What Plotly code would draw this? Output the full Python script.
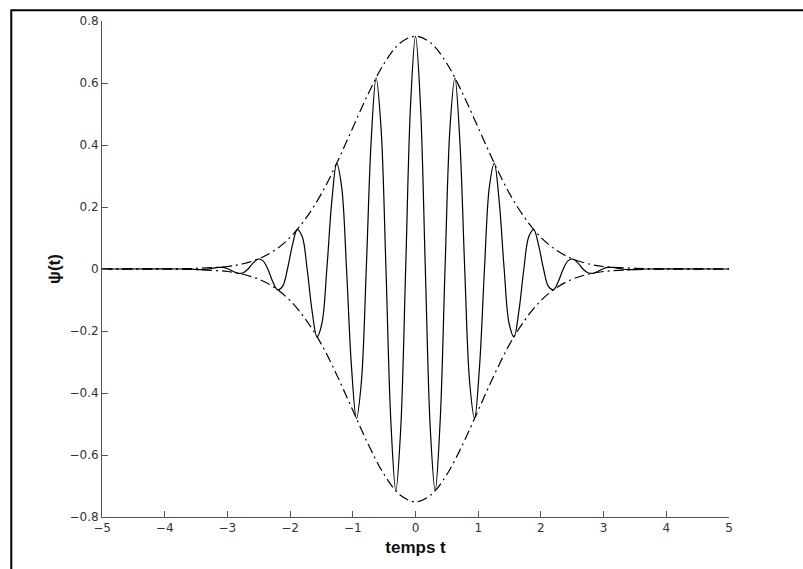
import plotly.graph_objects as go

# Values (t >= 0 half; the curve is symmetric about t = 0)
t_half = [0, 0.079, 0.157, 0.236, 0.314, 0.393, 0.471, 0.550, 0.628, 0.707, 0.785,
          0.864, 0.942, 1.021, 1.100, 1.178, 1.257, 1.335, 1.414, 1.492, 1.571,
          1.649, 1.728, 1.806, 1.885, 1.963, 2.042, 2.120, 2.199, 2.278, 2.356,
          2.435, 2.513, 2.592, 2.670, 2.749, 2.827, 2.906, 2.985, 3.063, 3.142,
          3.220, 3.299, 3.377, 3.456, 3.534, 3.613, 5.0]
psi_half = [0.751, 0.529, 0, -0.516, -0.715, -0.492, 0, 0.456, 0.617, 0.414, 0,
            -0.366, -0.482, -0.315, 0, 0.265, 0.341, 0.218, 0, -0.175, -0.219,
            -0.136, 0, 0.104, 0.127, 0.077, 0, -0.056, -0.067, -0.040, 0,
            0.027, 0.032, 0.019, 0, -0.012, -0.014, -0.008, 0, 0.005, 0.005,
            0.003, 0, -0.002, -0.002, -0.001, 0, 0]

env_t_half = [0, 0.25, 0.5, 0.75, 1.0, 1.25, 1.5, 1.75, 2.0, 2.25, 2.5, 2.75,
              3.0, 3.5, 4.0, 5.0]
env_half = [0.751, 0.728, 0.663, 0.567, 0.456, 0.344, 0.243, 0.163, 0.102,
            0.060, 0.033, 0.017, 0.008, 0.002, 0.0, 0.0]

x_ticks = [-5, -4, -3, -2, -1, 0, 1, 2, 3, 4, 5]
y_ticks = [-0.8, -0.6, -0.4, -0.2, 0, 0.2, 0.4, 0.6, 0.8]
y_tick_text = ["\u22120.8", "\u22120.6", "\u22120.4", "\u22120.2", "0", "0.2", "0.4", "0.6", "0.8"]
x_tick_text = ["\u22125", "\u22124", "\u22123", "\u22122", "\u22121", "0", "1", "2", "3", "4", "5"]


def mirror(ts, vs):
    tt = [-a for a in reversed(ts[1:])] + list(ts)
    vv = list(reversed(vs[1:])) + list(vs)
    return tt, vv


t, psi = mirror(t_half, psi_half)
et, env = mirror(env_t_half, env_half)
env_neg = [-v for v in env]

fig = go.Figure()
dash = "10px,4px,2px,4px"
fig.add_trace(go.Scatter(x=et, y=env, mode="lines",
                         line=dict(color="black", width=1.2, dash=dash, shape="spline", smoothing=1),
                         hoverinfo="skip", showlegend=False))
fig.add_trace(go.Scatter(x=et, y=env_neg, mode="lines",
                         line=dict(color="black", width=1.2, dash=dash, shape="spline", smoothing=1),
                         hoverinfo="skip", showlegend=False))
fig.add_trace(go.Scatter(x=t, y=psi, mode="lines",
                         line=dict(color="black", width=1.2, shape="spline", smoothing=1),
                         showlegend=False))

axis_font = dict(family="DejaVu Sans, Liberation Sans, sans-serif", size=12, color="#333")
title_font = dict(family="Liberation Sans, Arial, sans-serif", size=17, color="#111")
fig.update_layout(
    width=803, height=569,
    margin=dict(l=102, r=74, t=21, b=52),
    paper_bgcolor="white", plot_bgcolor="white",
    showlegend=False,
    xaxis=dict(range=[-5, 5], tickmode="array", tickvals=x_ticks, ticktext=x_tick_text,
               ticks="inside", ticklen=6, tickcolor="#555", showline=True, linecolor="#555",
               linewidth=1, showgrid=False, zeroline=False, tickfont=axis_font,
               title=dict(text="<b>temps t</b>", standoff=6, font=title_font)),
    yaxis=dict(range=[-0.8, 0.8], tickmode="array", tickvals=y_ticks, ticktext=y_tick_text,
               ticks="inside", ticklen=6, tickcolor="#555", showline=True, linecolor="#555",
               linewidth=1, showgrid=False, zeroline=False, tickfont=axis_font,
               title=dict(text="<b>\u03c8(t)</b>", standoff=4, font=title_font)),
    shapes=[dict(type="rect", xref="paper", yref="paper",
                 x0=-0.1447, x1=1.16, y0=-0.13, y1=1.0218,
                 line=dict(color="black", width=2), fillcolor="rgba(0,0,0,0)", layer="above")],
)

fig.write_html("out.html")
